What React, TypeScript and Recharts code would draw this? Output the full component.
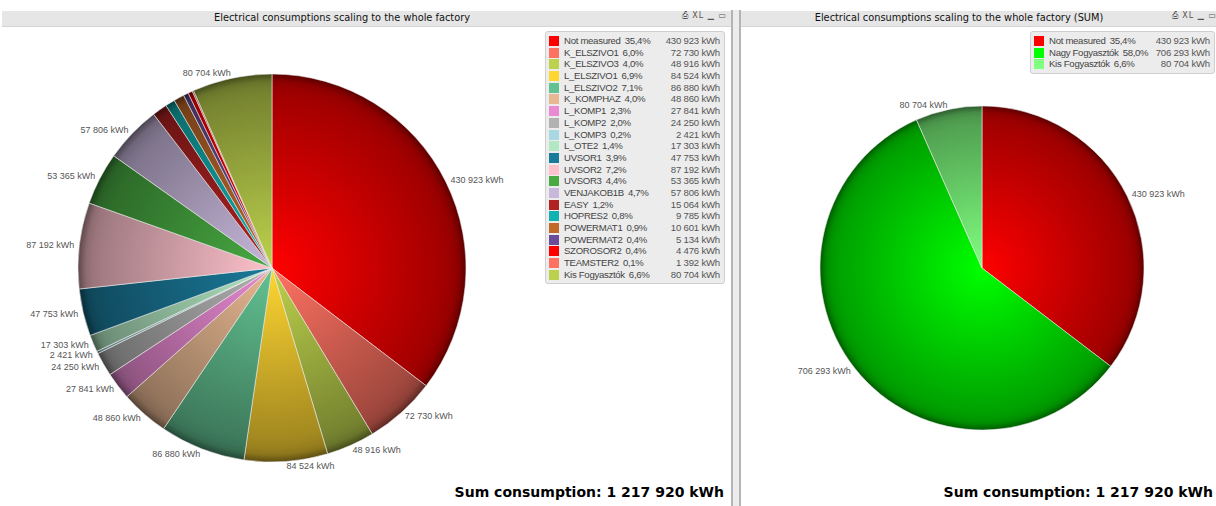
import { PieChart, Pie, Cell } from "recharts";

const LEFT_NAMES = [
  "Not measured",
  "K_ELSZIVO1",
  "K_ELSZIVO3",
  "L_ELSZIVO1",
  "L_ELSZIVO2",
  "K_KOMPHAZ",
  "L_KOMP1",
  "L_KOMP2",
  "L_KOMP3",
  "L_OTE2",
  "UVSOR1",
  "UVSOR2",
  "UVSOR3",
  "VENJAKOB1B",
  "EASY",
  "HOPRES2",
  "POWERMAT1",
  "POWERMAT2",
  "SZOROSOR2",
  "TEAMSTER2",
  "Kis Fogyasztók",
];
const LEFT_VALUES = [
  430923, 72730, 48916, 84524, 86880, 48860, 27841, 24250, 2421, 17303, 47753,
  87192, 53365, 57806, 15064, 9785, 10601, 5134, 4476, 1392, 80704,
];
const LEFT_COLORS = [
  "#ff0000",
  "#ff7262",
  "#bdd24c",
  "#ffd632",
  "#62c292",
  "#e8b892",
  "#e98ad2",
  "#b2b2b2",
  "#a8d8e2",
  "#b2e8c2",
  "#1a7a9a",
  "#ffc2cc",
  "#48aa42",
  "#c8b8dc",
  "#b22222",
  "#12b2b2",
  "#c26a2a",
  "#6a4e9a",
  "#ff0000",
  "#ff7262",
  "#bdd24c",
];
// labels QlikView dropped because they would overlap
const LEFT_NO_LABEL = ["EASY", "HOPRES2", "POWERMAT1", "POWERMAT2", "SZOROSOR2", "TEAMSTER2"];

const RIGHT_NAMES = ["Not measured", "Nagy Fogyasztók", "Kis Fogyasztók"];
const RIGHT_VALUES = [430923, 706293, 80704];
const RIGHT_COLORS = ["#ff0000", "#00ff00", "#80ff80"];

const TITLE_LEFT = "Electrical consumptions scaling to the whole factory";
const TITLE_RIGHT = "Electrical consumptions scaling to the whole factory (SUM)";

const RAD = Math.PI / 180;
const total = LEFT_VALUES.reduce((a, b) => a + b, 0);

const fmt = (v: number) => v.toString().replace(/\B(?=(\d{3})+(?!\d))/g, " ");
const pct = (v: number) => (v / total * 100).toFixed(1).replace(".", ",") + "%";

function shade(hex: string, k: number) {
  const n = parseInt(hex.slice(1), 16);
  const r = Math.round(((n >> 16) & 255) * k);
  const g = Math.round(((n >> 8) & 255) * k);
  const b = Math.round((n & 255) * k);
  return `rgb(${r},${g},${b})`;
}

const leftData = LEFT_NAMES.map((name, i) => ({ name, value: LEFT_VALUES[i] }));
const rightData = RIGHT_NAMES.map((name, i) => ({ name, value: RIGHT_VALUES[i] }));

const NO_MARGIN = { top: 0, right: 0, bottom: 0, left: 0 };

const makeLabel = (hidden: string[]) => (p: any) => {
  if (hidden.includes(p.name)) return null;
  const r = p.outerRadius + 5;
  const x = p.cx + r * Math.cos(-p.midAngle * RAD);
  const y = p.cy + r * Math.sin(-p.midAngle * RAD);
  return (
    <text
      x={x}
      y={y}
      fill="#555"
      fontSize={9}
      fontFamily="Liberation Sans, Arial, sans-serif"
      textAnchor={x >= p.cx ? "start" : "end"}
      dominantBaseline="central"
    >
      {fmt(p.value)} kWh
    </text>
  );
};

function gradients(id: string, colors: string[], cx: number, cy: number, r: number) {
  return colors.map((c, i) => (
    <radialGradient key={i} id={`${id}-${i}`} gradientUnits="userSpaceOnUse" cx={cx} cy={cy} r={r}>
      <stop offset="0%" stopColor={shade(c, 1)} />
      <stop offset="88%" stopColor={shade(c, 0.64)} />
      <stop offset="93%" stopColor={shade(c, 0.6)} />
      <stop offset="96%" stopColor={shade(c, 0.55)} />
      <stop offset="100%" stopColor={shade(c, 0.36)} />
    </radialGradient>
  ));
}

function TitleBar({ left, width, title, titleX }: any) {
  return (
    <div
      style={{
        position: "absolute",
        left,
        top: 11,
        width,
        height: 15,
        background: "#e6e6e6",
        borderBottom: "1px solid #d4d4d4",
        fontFamily: "DejaVu Sans, sans-serif",
        fontSize: 9.8,
        color: "#111",
      }}
    >
      <span style={{ position: "absolute", left: titleX, top: 1, transform: "translateX(-50%)", whiteSpace: "nowrap" }}>
        {title}
      </span>
      <span style={{ position: "absolute", right: 4, top: 0, fontSize: 8, color: "#555", whiteSpace: "nowrap", letterSpacing: 1 }}>
        ⎙ XL ▁ ▭
      </span>
    </div>
  );
}

function LegendBox({ left, top, width, names, values, colors }: any) {
  return (
    <div
      style={{
        position: "absolute",
        left,
        top,
        width,
        padding: "3px 0 3px 0",
        background: "#ececec",
        border: "1px solid #cfcfcf",
        borderRadius: 3,
        fontFamily: "Liberation Sans, Arial, sans-serif",
        fontSize: 9.6,
        color: "#444",
      }}
    >
      {names.map((n: string, i: number) => (
        <div key={n + i} style={{ position: "relative", height: 11.7, lineHeight: "11.7px", whiteSpace: "nowrap" }}>
          <span
            style={{
              position: "absolute",
              left: 3,
              top: 1,
              width: 10,
              height: 10,
              background: colors[i],
            }}
          />
          <span style={{ position: "absolute", left: 18, letterSpacing: -0.3 }}>
            {n}
            <span style={{ marginLeft: 4 }}>{pct(values[i])}</span>
          </span>
          <span style={{ position: "absolute", right: 4, color: "#555", letterSpacing: -0.2 }}>{fmt(values[i])} kWh</span>
        </div>
      ))}
    </div>
  );
}

function SumText({ right }: { right: number }) {
  return (
    <div
      style={{
        position: "absolute",
        right,
        top: 484,
        fontFamily: "DejaVu Sans, sans-serif",
        fontWeight: "bold",
        fontSize: 14,
        color: "#000",
        whiteSpace: "nowrap",
      }}
    >
      Sum consumption: {fmt(total)} kWh
    </div>
  );
}

export default function App() {
  return (
    <div style={{ position: "absolute", left: 0, top: 0, width: 1216, height: 506, background: "#fff", overflow: "hidden" }}>
      {/* left panel */}
      <div style={{ position: "absolute", left: 0, top: 0 }}>
        <PieChart width={730} height={506} margin={NO_MARGIN}>
          <defs>{gradients("gl", LEFT_COLORS, 272, 268, 194)}</defs>
          <Pie
            data={leftData}
            dataKey="value"
            nameKey="name"
            cx={272}
            cy={268}
            outerRadius={194}
            startAngle={90}
            endAngle={-270}
            stroke="rgba(235,235,235,0.8)"
            strokeWidth={0.7}
            label={makeLabel(LEFT_NO_LABEL)}
            labelLine={false}
            isAnimationActive={false}
          >
            {leftData.map((d, i) => (
              <Cell key={d.name + i} fill={`url(#gl-${i})`} />
            ))}
          </Pie>
        </PieChart>
      </div>
      <TitleBar left={2} width={729} title={TITLE_LEFT} titleX={340} />
      <LegendBox left={545} top={31} width={178} names={LEFT_NAMES} values={LEFT_VALUES} colors={LEFT_COLORS} />
      <SumText right={1216 - 724} />

      {/* divider */}
      <div
        style={{
          position: "absolute",
          left: 731,
          top: 10,
          width: 6,
          height: 496,
          background: "#ececec",
          borderLeft: "2px solid #b4b4b4",
          borderRight: "2px solid #b4b4b4",
        }}
      />

      {/* right panel */}
      <div style={{ position: "absolute", left: 741, top: 0 }}>
        <PieChart width={475} height={506} margin={NO_MARGIN}>
          <defs>{gradients("gr", RIGHT_COLORS, 241, 268, 162)}</defs>
          <Pie
            data={rightData}
            dataKey="value"
            nameKey="name"
            cx={241}
            cy={268}
            outerRadius={162}
            startAngle={90}
            endAngle={-270}
            stroke="rgba(235,235,235,0.8)"
            strokeWidth={0.7}
            label={makeLabel([])}
            labelLine={false}
            isAnimationActive={false}
          >
            {rightData.map((d, i) => (
              <Cell key={d.name + i} fill={`url(#gr-${i})`} />
            ))}
          </Pie>
        </PieChart>
      </div>
      <TitleBar left={741} width={480} title={TITLE_RIGHT} titleX={218} />
      <LegendBox left={1030} top={31} width={183} names={RIGHT_NAMES} values={RIGHT_VALUES} colors={RIGHT_COLORS} />
      <SumText right={3} />
    </div>
  );
}
